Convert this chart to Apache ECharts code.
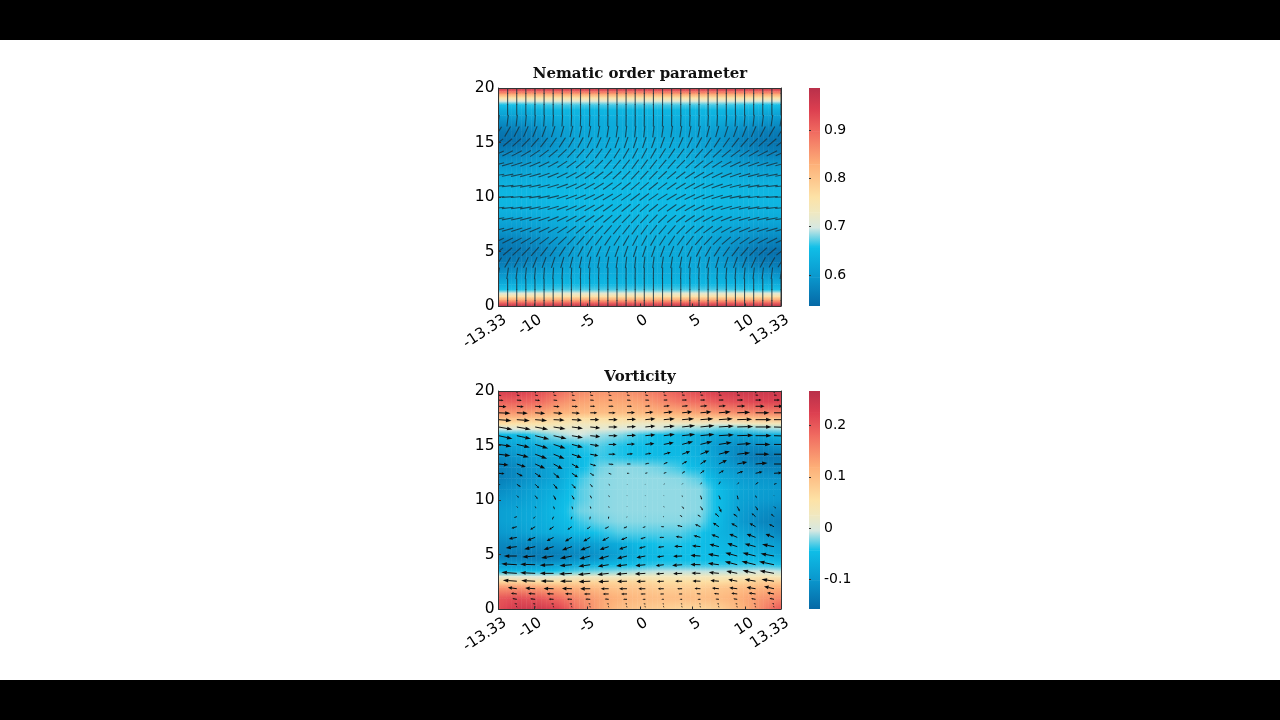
<!DOCTYPE html>
<html><head><meta charset="utf-8">
<style>html,body{margin:0;padding:0;background:#fff}#c{width:1280px;height:720px}</style>
<script src="https://cdn.jsdelivr.net/npm/echarts@6/dist/echarts.min.js"></script>
</head><body><div id="c"></div>
<script>
const xTickValues=[-13.33,-10,-5,0,5,10,13.33];
const nemBarTicks=[0.6,0.7,0.8,0.9];
const vortBarTicks=[-0.1,0,0.1,0.2];
const colorStops=[0,.13,.27,.36,.43,.5,.65,.8,.9,1];
const colorHex=['#0668a5','#0a96cc','#0fbfe8','#d8e8e2','#f0e8c0','#fde2a6','#fdb078','#f06a60','#dc3f50','#b9304a'];
const nemBarLevels=[.536,.595,.658,.698,.73,.762,.829,.897,.942,.987];
const vortBarLevels=[-.1575,-.102,-.043,-.005,.025,.055,.118,.182,.225,.267];
const heatX=[-13.33,-11.43,-9.52,-7.62,-5.71,-3.81,-1.9,0,1.9,3.81,5.71,7.62,9.52,11.43,13.33];

const nemY=[20,19.7,19.4,19.1,18.8,18.5,18,17.5,17,16,15,14,13,12,11,10,9,8,7,6,5,4,3,2.5,2,1.5,1.2,.9,.6,.3,0];
const nemHeat=[
[.98,.98,.98,.98,.98,.98,.98,.98,.98,.98,.98,.98,.98,.98,.98],
[.90,.90,.90,.90,.90,.90,.90,.90,.90,.90,.90,.90,.90,.90,.90],
[.83,.83,.83,.83,.83,.83,.83,.83,.83,.83,.83,.83,.83,.83,.83],
[.76,.76,.76,.76,.76,.76,.76,.76,.76,.76,.76,.76,.76,.76,.76],
[.705,.705,.71,.71,.71,.71,.71,.71,.71,.71,.71,.71,.71,.705,.705],
[.66,.66,.665,.67,.67,.67,.67,.67,.67,.67,.67,.67,.665,.66,.66],
[.63,.635,.64,.645,.645,.645,.645,.645,.645,.645,.645,.645,.64,.635,.63],
[.61,.615,.625,.635,.64,.64,.64,.64,.64,.64,.64,.635,.625,.615,.61],
[.585,.595,.61,.625,.63,.63,.63,.63,.63,.63,.63,.625,.61,.60,.59],
[.555,.56,.58,.605,.62,.625,.625,.625,.625,.62,.615,.60,.58,.565,.56],
[.545,.55,.57,.60,.62,.625,.63,.63,.63,.625,.615,.595,.57,.555,.55],
[.57,.575,.59,.61,.625,.63,.635,.635,.635,.63,.62,.605,.585,.57,.565],
[.60,.60,.61,.625,.635,.64,.64,.64,.64,.64,.63,.62,.605,.60,.60],
[.625,.625,.63,.635,.64,.645,.645,.645,.645,.645,.64,.635,.625,.62,.625],
[.64,.64,.64,.645,.645,.65,.65,.65,.65,.65,.645,.645,.64,.64,.64],
[.645,.645,.645,.65,.65,.65,.65,.65,.65,.65,.65,.65,.645,.645,.645],
[.64,.64,.64,.645,.645,.65,.65,.65,.65,.65,.645,.645,.64,.64,.64],
[.625,.62,.625,.635,.64,.645,.645,.645,.645,.645,.64,.635,.63,.625,.625],
[.60,.60,.605,.62,.63,.64,.64,.64,.64,.64,.635,.625,.61,.60,.60],
[.565,.57,.585,.605,.62,.63,.635,.635,.635,.63,.625,.61,.59,.575,.57],
[.55,.555,.57,.595,.615,.625,.63,.63,.63,.625,.62,.60,.57,.55,.545],
[.56,.565,.58,.60,.615,.62,.625,.625,.625,.625,.62,.605,.58,.56,.555],
[.59,.60,.61,.625,.63,.63,.63,.63,.63,.63,.63,.625,.61,.595,.585],
[.61,.615,.625,.635,.64,.64,.64,.64,.64,.64,.64,.635,.625,.615,.61],
[.63,.635,.64,.645,.645,.645,.645,.645,.645,.645,.645,.645,.64,.635,.63],
[.66,.66,.665,.67,.67,.67,.67,.67,.67,.67,.67,.67,.665,.66,.66],
[.705,.705,.71,.71,.71,.71,.71,.71,.71,.71,.71,.71,.71,.705,.705],
[.76,.76,.76,.76,.76,.76,.76,.76,.76,.76,.76,.76,.76,.76,.76],
[.83,.83,.83,.83,.83,.83,.83,.83,.83,.83,.83,.83,.83,.83,.83],
[.90,.90,.90,.90,.90,.90,.90,.90,.90,.90,.90,.90,.90,.90,.90],
[.98,.98,.98,.98,.98,.98,.98,.98,.98,.98,.98,.98,.98,.98,.98]];

const dirX=[-13.33,-12.47,-11.61,-10.75,-9.89,-9.03,-8.17,-7.31,-6.45,-5.59,-4.73,-3.87,-3.01,-2.15,-1.29,-.43,.43,1.29,2.15,3.01,3.87,4.73,5.59,6.45,7.31,8.17,9.03,9.89,10.75,11.61,12.47,13.33];
const dirY=[20,19,18,17,16,15,14,13,12,11,10,9,8,7,6,5,4,3,2,1,0];
const dirAngle=[
[90,90,90,90,90,90,90,90,90,90,90,90,90,90,90,90,90,90,90,90,90,90,90,90,90,90,90,90,90,90,90,90],
[90,90,90,90,90,90,90,90,90,90,90,90,90,90,90,90,90,90,90,90,90,90,90,90,90,90,90,90,90,90,90,90],
[90,90,90,90,90,90,90,90,90,90,90,90,90,90,90,90,90,90,90,90,90,90,90,90,90,90,90,90,90,90,90,90],
[82,83,84,85,86,86,87,87,88,88,88,89,89,89,89,89,89,89,89,89,88,88,88,87,87,86,86,85,84,83,82,80],
[58,60,63,66,68,70,72,74,76,78,79,80,81,82,83,84,84,83,82,81,80,79,78,76,74,72,70,68,66,63,60,58],
[38,40,43,46,49,52,55,57,60,62,64,66,68,70,71,72,72,71,70,68,66,64,62,60,57,55,52,49,46,43,40,38],
[24,26,28,31,34,37,40,43,46,49,52,54,56,58,60,62,62,60,58,56,54,52,49,46,43,40,37,34,31,28,26,24],
[15,16,18,20,23,26,29,33,36,39,42,45,48,50,52,54,54,52,50,48,45,42,39,36,33,29,26,23,20,18,16,15],
[10,11,12,14,16,19,22,25,28,31,34,37,40,43,45,47,47,45,43,40,37,34,31,28,25,22,19,16,14,12,11,10],
[6,7,8,10,12,14,17,20,23,26,29,32,35,37,39,41,41,39,37,35,32,29,26,23,20,17,14,12,10,8,7,6],
[3,4,5,7,9,11,14,17,20,23,26,29,31,33,35,37,37,35,33,31,29,26,23,20,17,14,11,9,7,5,4,3],
[6,7,8,10,12,14,17,20,23,26,29,32,35,37,39,41,41,39,37,35,32,29,26,23,20,17,14,12,10,8,7,6],
[10,11,12,14,16,19,22,25,28,31,34,37,40,43,45,47,47,45,43,40,37,34,31,28,25,22,19,16,14,12,11,10],
[15,16,18,20,23,26,29,33,36,39,42,45,48,50,52,54,54,52,50,48,45,42,39,36,33,29,26,23,20,18,16,15],
[24,26,28,31,34,37,40,43,46,49,52,54,56,58,60,62,62,60,58,56,54,52,49,46,43,40,37,34,31,28,26,24],
[38,40,43,46,49,52,55,57,60,62,64,66,68,70,71,72,72,71,70,68,66,64,62,60,57,55,52,49,46,43,40,38],
[58,60,63,66,68,70,72,74,76,78,79,80,81,82,83,84,84,83,82,81,80,79,78,76,74,72,70,68,66,63,60,58],
[80,82,83,84,85,86,86,87,87,88,88,88,89,89,89,89,89,89,89,89,88,88,88,87,87,86,86,85,84,83,83,82],
[90,90,90,90,90,90,90,90,90,90,90,90,90,90,90,90,90,90,90,90,90,90,90,90,90,90,90,90,90,90,90,90],
[90,90,90,90,90,90,90,90,90,90,90,90,90,90,90,90,90,90,90,90,90,90,90,90,90,90,90,90,90,90,90,90],
[90,90,90,90,90,90,90,90,90,90,90,90,90,90,90,90,90,90,90,90,90,90,90,90,90,90,90,90,90,90,90,90]];

const vortY=[20,19,18,17.5,17,16.5,16,15,14,13,12,11,10,9,8,7,6,5,4.5,4,3.5,3,2.5,2,1,0];
const vortHeat=[
[.23,.23,.21,.18,.155,.145,.145,.155,.175,.20,.215,.235,.245,.245,.245],
[.19,.19,.18,.15,.13,.125,.125,.13,.15,.17,.18,.20,.21,.22,.22],
[.14,.14,.13,.115,.105,.10,.10,.105,.115,.12,.13,.14,.15,.155,.16],
[.10,.10,.09,.07,.06,.06,.06,.07,.07,.08,.08,.08,.09,.10,.10],
[.06,.05,.05,.04,.03,.03,.03,.02,.02,.02,.02,.01,.02,.03,.03],
[-.01,0,.01,.01,.01,.01,0,-.005,-.005,-.02,-.02,-.03,-.03,-.02,-.015],
[-.05,-.05,-.03,-.015,-.005,-.015,-.02,-.035,-.045,-.055,-.065,-.075,-.08,-.07,-.06],
[-.09,-.08,-.07,-.055,-.04,-.03,-.04,-.045,-.05,-.055,-.07,-.10,-.115,-.115,-.105],
[-.115,-.10,-.085,-.07,-.05,-.035,-.04,-.045,-.05,-.05,-.065,-.095,-.125,-.14,-.14],
[-.13,-.115,-.095,-.075,-.05,-.025,-.018,-.02,-.025,-.035,-.055,-.085,-.105,-.12,-.125],
[-.13,-.115,-.095,-.075,-.035,-.02,-.018,-.018,-.018,-.02,-.03,-.07,-.09,-.10,-.105],
[-.115,-.10,-.08,-.065,-.03,-.02,-.018,-.018,-.018,-.018,-.02,-.05,-.08,-.09,-.095],
[-.10,-.09,-.075,-.055,-.03,-.02,-.018,-.018,-.018,-.018,-.02,-.05,-.085,-.095,-.10],
[-.09,-.08,-.07,-.05,-.025,-.02,-.018,-.018,-.018,-.018,-.02,-.05,-.09,-.11,-.12],
[-.09,-.08,-.07,-.055,-.035,-.025,-.02,-.02,-.02,-.02,-.025,-.055,-.095,-.12,-.13],
[-.10,-.09,-.075,-.065,-.05,-.04,-.03,-.03,-.03,-.03,-.04,-.06,-.08,-.10,-.12],
[-.12,-.115,-.115,-.105,-.095,-.085,-.07,-.05,-.04,-.04,-.045,-.055,-.065,-.08,-.095],
[-.13,-.135,-.135,-.13,-.12,-.105,-.085,-.06,-.05,-.045,-.045,-.05,-.055,-.065,-.08],
[-.115,-.12,-.125,-.115,-.10,-.09,-.07,-.055,-.045,-.045,-.045,-.045,-.045,-.05,-.06],
[-.085,-.09,-.09,-.08,-.07,-.055,-.045,-.04,-.035,-.035,-.035,-.035,-.035,-.035,-.04],
[-.05,-.05,-.05,-.04,-.03,-.025,-.02,-.015,-.01,-.01,-.01,-.01,-.01,-.005,-.01],
[.01,.005,0,.01,.02,.02,.02,.03,.03,.03,.03,.03,.03,.04,.03],
[.07,.07,.06,.06,.07,.07,.07,.07,.06,.06,.06,.06,.07,.08,.08],
[.14,.14,.13,.12,.11,.10,.09,.09,.08,.08,.08,.09,.10,.11,.12],
[.20,.21,.20,.18,.15,.13,.115,.105,.10,.10,.10,.105,.12,.14,.155],
[.21,.24,.24,.22,.17,.13,.10,.09,.08,.07,.07,.08,.11,.15,.20]];

const flowX=[-13.33,-11.6,-9.87,-8.13,-6.4,-4.67,-2.93,-1.2,.53,2.27,4,5.73,7.47,9.2,10.93,12.67];
const flowY=[19.9,19.63,19.17,18.6,18,17.37,16.7,15.9,15.1,14.2,13.3,12.45,11.44,10.4,9.4,8.47,7.55,6.57,5.72,4.86,4.06,3.27,2.55,1.86,1.38,.89,.46,.16];
const flowU=[
[.5,.5,.5,.5,.5,.5,.5,.5,.5,.5,.5,.5,.5,.5,.5,.5],
[3,3,3,3,3,3,3,3,3,3,3,3,3,3,3,3],
[5,5,5,4,4,4,4,4,4,4,5,5,5,6,6,6],
[8,7,7,6,6,5,5,5,5,6,6,7,7,8,9,9],
[12,11,10,9,8,7,7,8,8,9,10,11,12,13,14,14],
[13,13,12,11,10,9,9,9,10,11,12,13,14,15,16,16],
[14,14,13,12,11,10,9,9,10,11,13,14,15,16,16,16],
[14,14,14,13,11,10,9,9,10,11,13,14,15,16,16,16],
[13,13,13,12,11,9,8,8,9,10,11,12,13,14,15,15],
[12,12,12,11,10,8,7,6,6,7,8,9,11,13,14,14],
[10,9,10,9,7,6,5,4,4,4,5,6,8,10,12,13],
[6,6,6,6,6,4,3,2.5,2.5,3,3,4,5,6,7,8],
[2,4,4,4,4,2.5,1.5,.5,.5,1,1,1.5,1.5,2,3,3],
[1,2,2.5,2.5,2.5,1.5,.8,.3,.3,.3,.3,1.5,1.5,1,1,.5],
[.5,1,1,1,1,.8,.5,.3,.5,.5,2,2.5,2.5,2.5,2.5,2],
[-1,-3,-2,-1.5,-1,-.5,-.3,-.3,-.5,-1,-2.5,-3,-4,-4,-4,-3],
[-5,-5.5,-5,-4.5,-4.5,-3.5,-4,-3.5,-3,-3,-5,-5.5,-6,-6,-6,-5],
[-8,-8,-8,-7,-7,-7,-6.5,-6,-5,-4.5,-6.5,-7,-7.5,-8,-9,-8.5],
[-10,-11,-11,-10,-10,-10,-9,-8,-6.5,-6,-8,-8.5,-9.5,-10,-11,-12],
[-12,-13,-13,-12.5,-12,-11,-10,-10,-9,-7,-9,-10,-11,-12,-13,-13.5],
[-15,-15.5,-15,-14,-12.5,-12,-11,-11,-10,-8,-10,-10,-11,-12.5,-14,-15],
[-15,-15.5,-15,-14,-13,-12.5,-11.5,-11,-10.5,-8,-9,-9,-10,-11,-13,-14.5],
[-14,-14,-14,-13,-12,-11.7,-10.5,-10,-9,-7,-7,-8,-8.5,-9,-11,-12.5],
[-10,-9,-10,-10,-10,-10,-8,-8,-7,-6,-5,-6,-7,-8,-9,-10],
[-7,-6,-7,-7,-7,-6.5,-6,-6,-5,-4,-3.5,-4,-5,-6,-7,-7],
[-5,-4.5,-5,-5,-5,-5,-4,-4,-3,-2.5,-2.5,-3,-3.5,-4,-4.5,-4.5],
[-3,-2.5,-2.5,-2.5,-2.5,-2,-2,-2,-2,-1.5,-1.5,-1.5,-2,-2,-2,-2],
[-.5,-.5,-.5,-.5,-.5,-.5,-.5,-.5,-.5,-.5,-.5,-.5,-.5,-.5,-.5,-.5]];
const flowV=[
[-1.5,-1.5,-1.5,-1.5,-1.5,-1.5,-1.5,-1.5,-1.5,-1.5,-1.5,-1.5,-1.5,-1.5,-1.5,-1.5],
[-.7,-.7,-.7,-.7,-.7,-.7,-.7,-.5,-.5,-.5,-.3,-.3,-.3,-.3,-.3,-.3],
[-.5,-.5,-.5,-.5,-.5,-.3,-.3,-.3,-.2,0,0,0,0,0,0,0],
[-.5,-.5,-.5,-.5,-.3,0,0,0,.3,.5,.5,.5,.5,.3,0,0],
[-.5,-.5,-.7,-.7,-.5,0,0,.3,.7,1,1,1,1,.5,0,0],
[-1,-1,-1,-.5,-.5,0,0,.5,1,1,1,1,1,.5,0,0],
[-2.5,-2.5,-2.5,-2,-1.5,-1,0,.5,1,1,1.5,1.5,1,.5,0,-.5],
[-3,-3,-3.5,-3,-2,-1,0,.5,1,1.5,1.5,1.5,1,.5,0,-.5],
[-2,-3,-4,-4,-3,-1.5,0,.5,1,2,3,3,2,1,0,0],
[-1.5,-3,-4.5,-4.5,-3.5,-1.5,0,.5,1,2,3,3.5,3,1.5,0,0],
[-1,-3,-4.5,-5,-4,-2,-.5,0,1,2,3,4,4,2,1,0],
[-.5,-3,-4,-5,-4,-2.5,-1,0,.5,1,2,3,3,2,1.5,.5],
[-.5,-2.5,-4,-5,-4.5,-3,-1,-.5,.5,.5,1,2,3,2,2,1],
[0,-2,-3.5,-4.5,-4,-3,-1.5,-.5,-.5,-.5,-1.5,-4,-4,-4,-2.5,-.5],
[-.5,-1.5,-2,-3,-3,-2.5,-1.5,-.5,-.5,-1,-2.5,-4,-6,-5,-4,-2],
[-.5,-1,-2,-3,-3,-3,-2.5,-1,-.5,0,1.5,2,3.5,3,3.5,3],
[-1,-1.5,-3,-3,-3,-2.5,-2,-1.5,-1,0,1.5,2.5,4,3.5,3.5,2.5],
[-1,-1.5,-3,-3.5,-4,-4,-3.5,-2.5,-1.5,0,1,2,3,3.5,3.5,3.5],
[-1,-1.3,-2.5,-3,-3.5,-3.5,-3,-2.5,-1.5,-.7,.5,1,2.5,3.3,3,2.3],
[0,0,-1,-2,-2.5,-3,-3,-2.5,-1.7,-1,-.3,.7,2,3.3,3.3,2.5],
[1,1,.5,-.5,-1,-1.7,-1.7,-1.3,-1,-1,-.7,.3,1.5,3.3,3.5,3.3],
[1,1,.7,0,-.7,-1.3,-1.3,-1,-.7,-.7,-.3,.3,1,2.3,3,2.7],
[1,1,.7,.3,0,-.5,-.5,-.3,-.3,-.3,0,.3,.7,1.7,2,2],
[1,1.3,.7,.3,.3,0,0,0,0,0,0,.3,.7,1,1.5,2.3],
[.5,.7,.5,.3,.3,0,0,0,0,0,0,.3,.5,.7,1,1.3],
[.3,.7,.5,.3,.3,.3,.3,0,0,0,0,0,.3,.5,.7,1],
[.2,.3,.3,.2,.2,.2,.2,.2,.2,.2,.2,.2,.3,.3,.4,.5],
[1.5,1.5,1.5,1.5,1.5,1.5,1.5,1.5,1.5,1.5,1.5,1.5,1.5,1.5,1.5,1.5]];

const PLOT_LEFT=498.5,PLOT_W=282.5,PLOT_H=218,BAR_LEFT=809,BAR_W=11;
const panelTops=[88,391];
const AXC='#333';
const LABEL={fontFamily:'DejaVu Sans',fontSize:15.5,color:'#000'};

function rgb(h){return [1,3,5].map(i=>parseInt(h.substr(i,2),16));}
const stopRgb=colorHex.map(rgb);
function colorOf(v,lo,hi){
  let t=Math.max(0,Math.min(1,(v-lo)/(hi-lo)));
  let i=0;while(i<colorStops.length-2&&t>colorStops[i+1])i++;
  const f=(t-colorStops[i])/(colorStops[i+1]-colorStops[i]);
  const c=stopRgb[i].map((a,k)=>Math.round(a+(stopRgb[i+1][k]-a)*f));
  return 'rgb('+c.join(',')+')';
}
function cellRender(lo,hi,strips){
  return function(params,api){
    const a=api.coord([api.value(0),api.value(2)]),b=api.coord([api.value(1),api.value(3)]);
    const tl=api.value(4),tr=api.value(5),bl=api.value(6),br=api.value(7);
    const w=(b[0]-a[0])/strips,h=b[1]-a[1],children=[];
    for(let s=0;s<strips;s++){
      const f=(s+.5)/strips,top=tl+(tr-tl)*f,bot=bl+(br-bl)*f;
      children.push({type:'rect',shape:{x:a[0]+s*w,y:a[1],width:w+.5,height:h+.4},
        style:{fill:{type:'linear',x:0,y:0,x2:0,y2:1,colorStops:[
          {offset:0,color:colorOf(top,lo,hi)},{offset:1,color:colorOf(bot,lo,hi)}]}}});
    }
    return {type:'group',children};
  };
}
function heatCells(xs,ys,vals){
  const out=[];
  for(let j=0;j<ys.length-1;j++)for(let i=0;i<xs.length-1;i++)
    out.push([xs[i],xs[i+1],ys[j],ys[j+1],vals[j][i],vals[j][i+1],vals[j+1][i],vals[j+1][i+1]]);
  return out;
}
function barCells(levels){
  const out=[];
  for(let j=0;j<levels.length-1;j++){const t=levels[j+1],b=levels[j];out.push([0,1,t,b,t,t,b,b]);}
  return out;
}
function heatSeries(name,xi,yi,data,lo,hi,strips){
  return {name,type:'custom',xAxisIndex:xi,yAxisIndex:yi,data,clip:true,silent:true,z:2,
    encode:{x:[0,1],y:[2,3]},renderItem:cellRender(lo,hi,strips)};
}
const dirData=[];
dirY.forEach((y,j)=>dirX.forEach((x,i)=>dirData.push([x,y,dirAngle[j][i]])));
const flowData=[];
flowY.forEach((y,j)=>flowX.forEach((x,i)=>flowData.push([x,y,flowU[j][i],flowV[j][i]])));

function renderDir(params,api){
  const p=api.coord([api.value(0),api.value(1)]),a=api.value(2)*Math.PI/180,l=5.8;
  const dx=Math.cos(a)*l,dy=Math.sin(a)*l;
  return {type:'line',shape:{x1:p[0]-dx,y1:p[1]+dy,x2:p[0]+dx,y2:p[1]-dy},
    style:{stroke:'#16303c',lineWidth:1.1,opacity:.8}};
}
function renderFlow(params,api){
  const p=api.coord([api.value(0),api.value(1)]),u=api.value(2),v=api.value(3);
  const len=Math.hypot(u,v),ux=u/len,uy=-v/len;
  const tip=[p[0]+u,p[1]-v],hl=Math.min(5.5,len*.45),hw=Math.min(1.9,len*.2);
  const base=[tip[0]-ux*hl,tip[1]-uy*hl];
  return {type:'group',children:[
    {type:'line',shape:{x1:p[0],y1:p[1],x2:base[0],y2:base[1]},style:{stroke:'#0c0c0c',lineWidth:1}},
    {type:'polygon',shape:{points:[tip,[base[0]-uy*hw,base[1]+ux*hw],[base[0]+uy*hw,base[1]-ux*hw]]},style:{fill:'#0c0c0c'}}
  ]};
}
const tickCfg={show:true,inside:true,length:2.5,lineStyle:{color:AXC,width:1}};
const grids=[],xAxes=[],yAxes=[];
const nemLo=nemBarLevels[0],nemHi=nemBarLevels[9],vortLo=vortBarLevels[0],vortHi=vortBarLevels[9];
[[nemLo,nemHi,nemBarTicks],[vortLo,vortHi,vortBarTicks]].forEach((cfg,k)=>{
  const top=panelTops[k];
  grids.push({left:PLOT_LEFT,top,width:PLOT_W,height:PLOT_H,containLabel:false});
  grids.push({left:BAR_LEFT,top,width:BAR_W,height:PLOT_H,containLabel:false});
  const g=k*2;
  xAxes.push({type:'value',gridIndex:g,min:-13.33,max:13.33,position:'bottom',z:10,
    axisLine:{show:true,onZero:false,lineStyle:{color:AXC,width:1}},
    axisTick:{...tickCfg,customValues:xTickValues},splitLine:{show:false},
    axisLabel:{...LABEL,fontSize:15,customValues:xTickValues,rotate:33,margin:17,align:'right',verticalAlign:'middle',padding:[0,-8,0,0],hideOverlap:false,showMinLabel:true,showMaxLabel:true,formatter:v=>String(v)}});
  xAxes.push({type:'value',gridIndex:g,min:-13.33,max:13.33,position:'top',z:10,
    axisLine:{show:true,onZero:false,lineStyle:{color:AXC,width:1}},axisTick:{show:false},axisLabel:{show:false},splitLine:{show:false}});
  xAxes.push({type:'value',gridIndex:g+1,min:0,max:1,show:false});
  yAxes.push({type:'value',gridIndex:g,min:0,max:20,interval:5,position:'left',z:10,
    axisLine:{show:true,onZero:false,lineStyle:{color:AXC,width:1}},axisTick:tickCfg,splitLine:{show:false},
    axisLabel:{...LABEL,margin:4,padding:[6,0,0,0]}});
  yAxes.push({type:'value',gridIndex:g,min:0,max:20,position:'right',z:10,
    axisLine:{show:true,onZero:false,lineStyle:{color:AXC,width:1}},axisTick:{show:false},axisLabel:{show:false},splitLine:{show:false}});
  yAxes.push({type:'value',gridIndex:g+1,min:cfg[0],max:cfg[1],position:'right',z:10,
    axisLine:{show:false},splitLine:{show:false},
    axisTick:{show:true,inside:false,length:2,customValues:cfg[2],lineStyle:{color:AXC}},
    axisLabel:{fontFamily:'DejaVu Sans',fontSize:14,color:'#000',margin:4,padding:[4,0,0,0],customValues:cfg[2],formatter:v=>String(v)}});
});
const TITLE_STYLE={fontFamily:'DejaVu Serif',fontWeight:'bold',fontSize:15,color:'#111'};
const option={
  animation:false,backgroundColor:'#fff',
  title:[
    {text:'Nematic order parameter',left:635,top:62,textAlign:'center',textStyle:TITLE_STYLE},
    {text:'Vorticity',left:635,top:365,textAlign:'center',textStyle:TITLE_STYLE}
  ],
  grid:grids,xAxis:xAxes,yAxis:yAxes,
  graphic:[
    {type:'rect',silent:true,z:100,shape:{x:0,y:0,width:1280,height:40},style:{fill:'#000'}},
    {type:'rect',silent:true,z:100,shape:{x:0,y:680,width:1280,height:40},style:{fill:'#000'}}
  ],
  series:[
    heatSeries('Nematic order parameter',0,0,heatCells(heatX,nemY,nemHeat),nemLo,nemHi,8),
    {name:'Director',type:'custom',xAxisIndex:0,yAxisIndex:0,data:dirData,clip:true,silent:true,z:3,encode:{x:0,y:1},renderItem:renderDir},
    heatSeries('Nematic colorbar',2,2,barCells(nemBarLevels),nemLo,nemHi,1),
    heatSeries('Vorticity',3,3,heatCells(heatX,vortY,vortHeat),vortLo,vortHi,8),
    {name:'Flow',type:'custom',xAxisIndex:3,yAxisIndex:3,data:flowData,clip:true,silent:true,z:3,encode:{x:0,y:1},renderItem:renderFlow},
    heatSeries('Vorticity colorbar',5,5,barCells(vortBarLevels),vortLo,vortHi,1)
  ]
};
echarts.init(document.getElementById('c'),null,{renderer:'canvas'}).setOption(option);
</script></body></html>
